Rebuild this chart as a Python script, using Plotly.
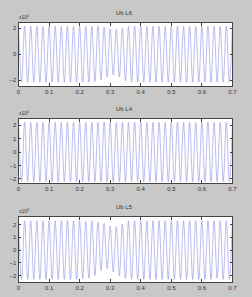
import numpy as np
import plotly.graph_objects as go

# peak times (s) of each half cycle, 50 Hz signal
t_peaks = np.round(np.arange(0, 0.7001, 0.01), 2)

# signed half-cycle peak values (x10^4)
ub_l6 = [2.15, -2.15, 2.15, -2.15, 2.15, -2.15, 2.15, -2.15, 2.15, -2.15,
         2.15, -2.15, 2.15, -2.15, 2.15, -2.15, 2.15, -2.15, 2.15, -2.15,
         2.15, -2.15, 2.15, -2.15, 2.15, -2.1, 2.15, -2.0, 2.1, -1.75,
         1.95, -1.6, 1.9, -1.75, 2.0, -2.05, 2.15, -2.15, 2.15, -2.15,
         2.15, -2.15, 2.15, -2.15, 2.15, -2.15, 2.15, -2.15, 2.15, -2.15,
         2.15, -2.15, 2.15, -2.15, 2.15, -2.15, 2.15, -2.15, 2.15, -2.15,
         2.15, -2.15, 2.15, -2.15, 2.15, -2.15, 2.15, -2.15, 2.15, -2.15,
         2.15]
ub_l4 = [2.2, -2.2, 2.2, -2.2, 2.2, -2.2, 2.2, -2.2, 2.2, -2.2,
         2.2, -2.2, 2.2, -2.2, 2.2, -2.2, 2.2, -2.2, 2.2, -2.2,
         2.2, -2.2, 2.2, -2.2, 2.2, -2.2, 2.2, -2.2, 2.2, -2.2,
         2.2, -2.2, 2.2, -2.2, 2.2, -2.2, 2.2, -2.2, 2.2, -2.2,
         2.2, -2.2, 2.2, -2.2, 2.2, -2.2, 2.2, -2.2, 2.2, -2.2,
         2.2, -2.2, 2.2, -2.2, 2.2, -2.2, 2.2, -2.2, 2.2, -2.2,
         2.2, -2.2, 2.2, -2.2, 2.2, -2.2, 2.2, -2.2, 2.2, -2.2,
         2.2]
ub_l5 = [2.3, -2.3, 2.3, -2.3, 2.3, -2.3, 2.3, -2.3, 2.3, -2.3,
         2.3, -2.3, 2.3, -2.3, 2.3, -2.3, 2.3, -2.3, 2.3, -2.3,
         2.3, -2.25, 2.25, -2.2, 2.3, -2.0, 2.2, -1.6, 2.1, -1.45,
         1.9, -1.7, 1.85, -2.0, 2.05, -2.2, 2.3, -2.3, 2.3, -2.3,
         2.3, -2.3, 2.3, -2.3, 2.3, -2.3, 2.3, -2.3, 2.3, -2.3,
         2.3, -2.3, 2.3, -2.3, 2.3, -2.3, 2.3, -2.3, 2.3, -2.3,
         2.3, -2.3, 2.3, -2.3, 2.3, -2.2, 2.3, -2.3, 2.3, -2.3,
         2.3]

titles = ["Ub L6", "Ub L4", "Ub L5"]
series = [ub_l6, ub_l4, ub_l5]
x_ticks = [0, 0.1, 0.2, 0.3, 0.4, 0.5, 0.6, 0.7]
x_tick_text = ["0", "0.1", "0.2", "0.3", "0.4", "0.5", "0.6", "0.7"]
y_ticks = [[-2, 0, 2], [-2, -1, 0, 1, 2], [-2, -1, 0, 1, 2]]
y_ranges = [[-2.45, 2.4], [-2.3, 2.45], [-2.5, 2.6]]

W, H = 252, 297
panels_px = [(23, 86), (119, 183), (217, 282)]
x_dom = [17 / W, 237 / W]

fig = go.Figure()
font = dict(family="Liberation Sans Narrow, Liberation Sans", size=6, color="#333333")
for i, (vals, title) in enumerate(zip(series, titles)):
    n = "" if i == 0 else str(i + 1)
    fig.add_trace(go.Scatter(x=t_peaks, y=vals, mode="lines",
                             line=dict(color="#8e8ee4", width=0.6, shape="spline", smoothing=1.0),
                             xaxis="x" + n, yaxis="y" + n, showlegend=False))
    top, bot = panels_px[i]
    ydom = [1 - bot / H, 1 - top / H]
    common = dict(showline=True, linecolor="#444444", linewidth=0.8, mirror="ticks",
                  ticks="inside", ticklen=3, tickcolor="#444444", tickwidth=0.6,
                  showgrid=False, zeroline=False, tickfont=font)
    fig.layout["xaxis" + n] = dict(domain=x_dom, range=[0, 0.7], tickvals=x_ticks,
                                   ticktext=x_tick_text, anchor="y" + n, **common)
    fig.layout["yaxis" + n] = dict(domain=ydom, range=y_ranges[i], tickvals=y_ticks[i],
                                   anchor="x" + n, **common)
    fig.add_annotation(text=title, x=0.5, xref="paper", y=1 - (top - 10) / H, yref="paper",
                       showarrow=False, font=font, xanchor="center", yanchor="middle")
    fig.add_annotation(text="x10<sup>4</sup>", x=15 / W, xref="paper", y=1 - (top - 6) / H,
                       yref="paper", showarrow=False, font=dict(family="Liberation Sans", size=5, color="#333333"),
                       xanchor="left", yanchor="middle")

fig.update_layout(width=W, height=H, margin=dict(l=0, r=0, t=0, b=0),
                  paper_bgcolor="#c8c8c8", plot_bgcolor="white")
fig.write_html("out.html")
